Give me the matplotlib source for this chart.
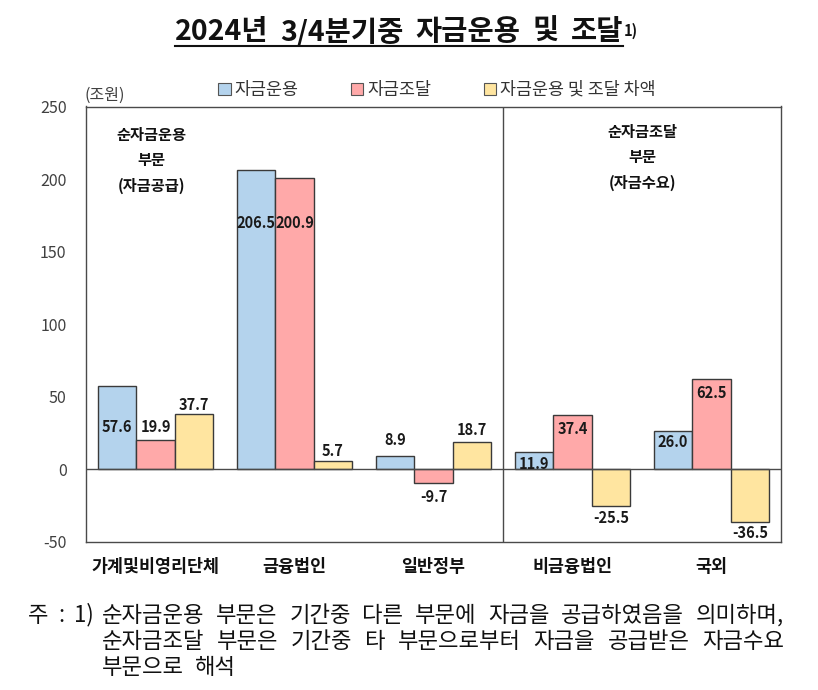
import matplotlib
matplotlib.use("Agg")
import matplotlib.pyplot as plt
from matplotlib.patches import Patch
from matplotlib.lines import Line2D
import numpy as np

plt.rcParams['font.family'] = ['Noto Sans CJK KR', 'DejaVu Sans']

# ---- data ----
categories = ['가계및비영리단체', '금융법인', '일반정부', '비금융법인', '국외']
series_names = ['자금운용', '자금조달', '자금운용 및 조달 차액']
uses = [57.6, 206.5, 8.9, 11.9, 26.0]
sources = [19.9, 200.9, -9.7, 37.4, 62.5]
net = [37.7, 5.7, 18.7, -25.5, -36.5]
yticks = [-50, 0, 50, 100, 150, 200, 250]
title_words = ['2024년', '3/4분기중', '자금운용', '및', '조달']
unit = '(조원)'
left_note = '순자금운용\n부문\n(자금공급)'
right_note = '순자금조달\n부문\n(자금수요)'
note_prefix = ['주', ':', '1)']
footnote = ['순자금운용 부문은 기간중 다른 부문에 자금을 공급하였음을 의미하며,',
            '순자금조달 부문은 기간중 타 부문으로부터 자금을 공급받은 자금수요',
            '부문으로 해석']

# ---- style ----
colors = ['#B4D3ED', '#FFA9A9', '#FFE5A0']
edge = '#3a3a3a'
# label y offsets (data units, relative to bar value); None => bar center
label_shift = [
    [None, -36.5, 11.0, -8.0, -7.2],    # uses
    [9.0, -31.0, -9.3, -9.4, -9.8],     # sources
    [6.8, 6.7, 8.0, -8.5, -7.3],        # net
]

W, H = 818, 690
fig = plt.figure(figsize=(W / 100, H / 100), dpi=100)
L, R, T, B = 86, 781, 106.5, 541.7
ax = fig.add_axes([L / W, 1 - B / H, (R - L) / W, (B - T) / H])

x = np.arange(len(categories))
bw = 0.276
series = [uses, sources, net]
handles = []
for i, (vals, c) in enumerate(zip(series, colors)):
    pos = x + (i - 1) * bw
    ax.bar(pos, vals, width=bw, color=c, edgecolor=edge, linewidth=1.0, zorder=3)
    handles.append(Patch(facecolor=c, edgecolor='#555555', linewidth=0.8, label=series_names[i]))
    for j, v in enumerate(vals):
        sh = label_shift[i][j]
        ly = v / 2 if sh is None else v + sh
        ax.text(pos[j], ly, f'{v:.1f}', ha='center', va='center', fontsize=10.5,
                fontweight='bold', color='#1a1a1a', zorder=5)

ax.set_xlim(-0.5, len(categories) - 0.5)
ax.set_ylim(yticks[0], yticks[-1])
ax.set_yticks(yticks)
ax.set_yticklabels([str(t) for t in yticks], fontsize=11.5, color='#404040')
ax.set_xticks(x)
ax.set_xticklabels(categories, fontsize=12.5, fontweight='bold', color='#111111')
ax.tick_params(axis='y', length=0, pad=14)
ax.tick_params(axis='x', length=0, pad=12)
for s in ax.spines.values():
    s.set_color('#4a4a4a')
    s.set_linewidth(1.0)
ax.axhline(0, color='#4a4a4a', linewidth=1.0, zorder=4)
ax.axvline(2.5, color='#4a4a4a', linewidth=1.0, zorder=4)

# section notes
ax.text(-0.03, 236, left_note, ha='center', va='top', fontsize=11,
        fontweight='bold', linespacing=1.72, color='#111111')
ax.text(3.5, 238, right_note, ha='center', va='top', fontsize=11,
        fontweight='bold', linespacing=1.72, color='#111111')

# unit label
fig.text(85 / W, 1 - 95 / H, unit, ha='left', va='center', fontsize=11.5, color='#404040')

# legend
fig.legend(handles=handles, loc='center', bbox_to_anchor=(437 / W, 1 - 90 / H), ncol=3,
           frameon=False, fontsize=12.5, handlelength=0.7, handleheight=0.7,
           handletextpad=0.25, columnspacing=3.0, labelcolor='#333333')

fig.canvas.draw()
renderer = fig.canvas.get_renderer()

def place_line(words, x0, x1, y, fs, justify=True, gap=12, **kw):
    arts = [fig.text(0, y, w_, ha='left', va='center', fontsize=fs, color='#111111', **kw)
            for w_ in words]
    widths = [a.get_window_extent(renderer).width for a in arts]
    if justify and len(words) > 1:
        gap = ((x1 - x0) - sum(widths)) / (len(words) - 1)
    cx = x0
    for a, wd in zip(arts, widths):
        a.set_x(cx / W)
        cx += wd + gap
    return arts

# title with underline and superscript
tarts = place_line(title_words, 175, 623, 1 - 32 / H, 20.5, fontweight='bold')
fig.canvas.draw()
bbl = tarts[-1].get_window_extent(renderer)
fig.text(bbl.x1 / W + 0.001, 1 - 23 / H, '1)', ha='left', va='top', fontsize=10.5,
         fontweight='bold', color='#111111')
uy = 1 - 46 / H
fig.add_artist(Line2D([175 / W, bbl.x1 / W], [uy, uy], color='#111111', linewidth=1.5))

# footnote (justified lines 1 and 2)
FS = 16
y1 = 1 - 615 / H
for px, s in zip([28, 58, 74], note_prefix):
    fig.text(px / W, y1, s, ha='left', va='center', fontsize=FS, color='#111111')
place_line(footnote[0].split(' '), 102, 784, y1, FS)
place_line(footnote[1].split(' '), 102, 784, 1 - 642 / H, FS)
place_line(footnote[2].split(' '), 102, 784, 1 - 668 / H, FS, justify=False, gap=11)

fig.savefig('out.png', dpi=100)
